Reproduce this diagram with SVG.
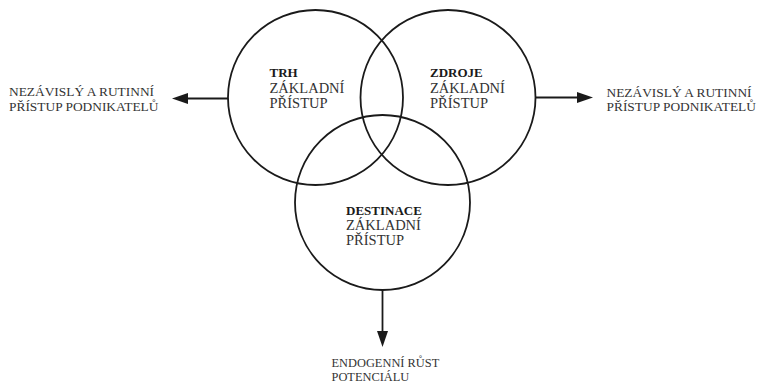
<svg xmlns="http://www.w3.org/2000/svg" width="758" height="382" viewBox="0 0 758 382">
  <style>
    .ring { fill: none; stroke: #1a1a1a; stroke-width: 1.8; }
    .link { stroke: #1a1a1a; stroke-width: 1.8; fill: none; }
    .head { fill: #1a1a1a; }
    .title { font-weight: bold; font-size: 13px; fill: #1a1a1a; }
    .sub { font-size: 14.5px; fill: #333; }
    .note { font-size: 13.4px; fill: #333; }
    .note2 { font-size: 12.4px; fill: #333; }
  </style>
  <rect width="758" height="382" fill="#ffffff"/>

  <!-- arrows leaving the circles -->
  <g id="connectors">
    <line class="link" x1="228" y1="98.5" x2="185" y2="98.5"/>
    <polygon class="head" points="172,98.5 188,93 188,104"/>
    <line class="link" x1="535" y1="97.5" x2="580" y2="97.5"/>
    <polygon class="head" points="593,97.5 577,92 577,103"/>
    <line class="link" x1="382.5" y1="290" x2="382.5" y2="334"/>
    <polygon class="head" points="382.5,347 377,331 388,331"/>
  </g>

  <g font-family="'Liberation Serif', serif">
    <g id="trh">
      <circle class="ring" cx="315.5" cy="97.5" r="87.5"/>
      <text class="title" x="269.5" y="76.5">TRH</text>
      <text class="sub" x="269.5" y="93">ZÁKLADNÍ</text>
      <text class="sub" x="269.5" y="107.5">PŘÍSTUP</text>
    </g>

    <g id="zdroje">
      <circle class="ring" cx="448" cy="97.5" r="87.5"/>
      <text class="title" x="430" y="76.5">ZDROJE</text>
      <text class="sub" x="430" y="93">ZÁKLADNÍ</text>
      <text class="sub" x="430" y="107.5">PŘÍSTUP</text>
    </g>

    <g id="destinace">
      <circle class="ring" cx="382.5" cy="202.5" r="87.5"/>
      <text class="title" x="346" y="214.5">DESTINACE</text>
      <text class="sub" x="346" y="230">ZÁKLADNÍ</text>
      <text class="sub" x="346" y="245">PŘÍSTUP</text>
    </g>

    <g id="left-outcome">
      <text class="note" x="9" y="96">NEZÁVISLÝ A RUTINNÍ</text>
      <text class="note" x="9" y="111">PŘÍSTUP PODNIKATELŮ</text>
    </g>

    <g id="right-outcome">
      <text class="note" x="606.5" y="96.5">NEZÁVISLÝ A RUTINNÍ</text>
      <text class="note" x="606.5" y="110.5">PŘÍSTUP PODNIKATELŮ</text>
    </g>

    <g id="bottom-outcome">
      <text class="note2" x="331.5" y="367">ENDOGENNÍ RŮST</text>
      <text class="note2" x="331.5" y="381">POTENCIÁLU</text>
    </g>
  </g>
</svg>
